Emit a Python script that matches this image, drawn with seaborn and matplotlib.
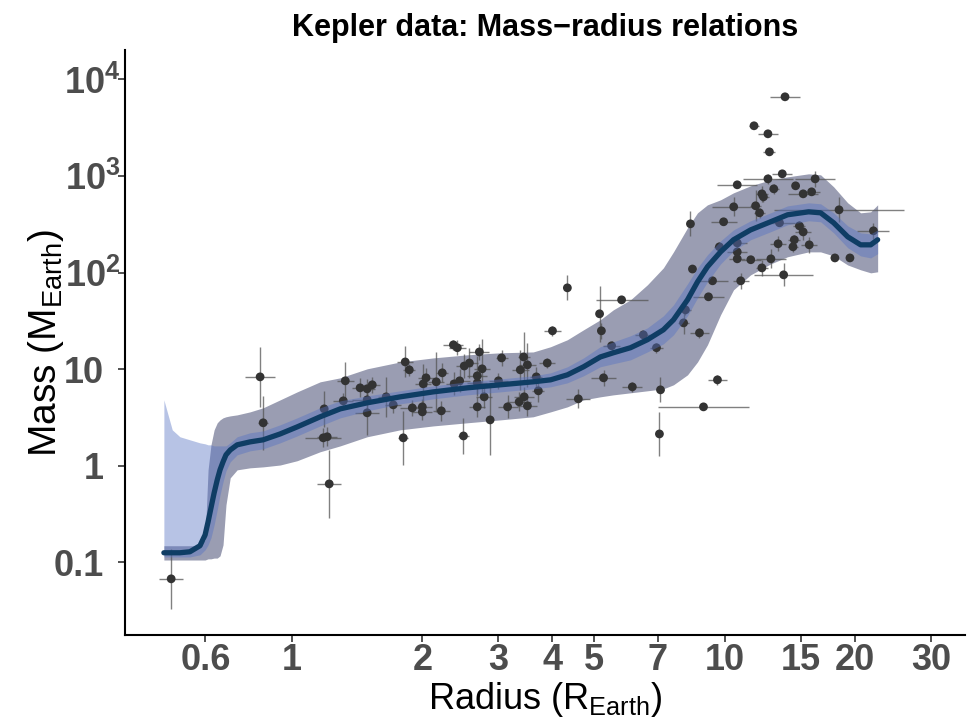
import numpy as np
import matplotlib
matplotlib.use("Agg")
import matplotlib.pyplot as plt
import seaborn as sns
from matplotlib.ticker import FixedLocator, FixedFormatter, NullLocator
from matplotlib.transforms import ScaledTranslation

# Kepler mass-radius relation: fitted mean curve, two bands and the planets

# 1. curve (radius grid, mean mass, inner and outer band)
curve_radius = [0.505, 0.528, 0.550, 0.580, 0.612, 0.629, 0.639, 0.649, 0.660, 0.671,
                0.681, 0.692, 0.703, 0.719, 0.746, 0.799, 0.857, 0.938, 1.027, 1.161,
                1.292, 1.491, 1.778, 2.12, 2.54, 3.03, 3.61, 3.96, 4.33, 4.72,
                5.16, 5.53, 6.06, 6.63, 7.22, 7.62, 8.21, 8.66, 9.13, 9.79,
                10.49, 11.49, 12.78, 13.99, 15.65, 16.68, 17.88, 19.27, 20.64, 21.78, 22.6]

mean_mass = [0.126, 0.126, 0.126, 0.129, 0.149, 0.193, 0.263, 0.367, 0.525, 0.716,
             0.909, 1.10, 1.30, 1.46, 1.65, 1.77, 1.86, 2.14, 2.53, 3.22,
             3.89, 4.49, 5.18, 5.83, 6.42, 6.90, 7.41, 7.77, 8.75, 10.6,
             13.4, 14.8, 16.7, 20.2, 25.6, 32.5, 52.3, 80.3, 115, 164,
             219, 277, 336, 397, 426, 416, 328, 235, 194, 194, 219]

outer_upper = [0.149, 0.149, 0.149, 0.149, 0.149, 0.171, 0.909, 1.65, 2.36, 2.79,
               2.99, 3.14, 3.22, 3.29, 3.37, 3.62, 3.99, 4.82, 5.83, 7.41,
               8.15, 10.1, 11.9, 13.1, 14.1, 14.8, 15.1, 17.1, 20.2, 25.6,
               32.5, 41.2, 52.3, 74.8, 112, 164, 291, 416, 503, 567,
               670, 792, 913, 981, 1054, 1029, 773, 528, 416, 426, 503]

outer_lower = [0.106, 0.106, 0.106, 0.106, 0.106, 0.106, 0.109, 0.109, 0.111, 0.111,
               0.117, 0.152, 0.395, 0.751, 0.909, 0.954, 0.976, 1.02, 1.13, 1.40,
               1.61, 2.00, 2.36, 2.59, 2.79, 2.99, 3.22, 3.62, 4.08, 4.82,
               5.18, 5.43, 5.70, 5.98, 6.27, 6.90, 8.75, 11.9, 17.9, 36.6,
               66.4, 94.9, 123, 146, 164, 164, 149, 120, 107, 99.5, 102]

inner_upper = [4.82, 2.36, 2.00, 1.86, 1.73, 1.69, 1.65, 1.65, 1.61, 1.61,
               1.61, 1.61, 1.61, 1.73, 2.00, 2.20, 2.30, 2.66, 3.14, 3.99,
               4.71, 5.30, 5.98, 6.73, 7.41, 7.95, 8.55, 9.18, 10.6, 13.1,
               17.1, 19.2, 22.2, 26.8, 35.7, 46.4, 76.6, 112, 153, 213,
               277, 344, 416, 491, 528, 516, 416, 305, 258, 252, 277]

inner_lower = [0.114, 0.114, 0.114, 0.114, 0.120, 0.135, 0.152, 0.180, 0.245, 0.351,
               0.501, 0.683, 0.888, 1.10, 1.30, 1.43, 1.50, 1.73, 2.04, 2.59,
               3.14, 3.71, 4.38, 4.94, 5.43, 5.83, 6.27, 6.57, 7.23, 8.55,
               10.6, 11.4, 12.5, 15.1, 18.3, 22.7, 35.7, 54.8, 80.3, 123,
               168, 219, 265, 313, 344, 336, 258, 181, 149, 142, 157]

# 2. planets (radius, mass and their errors in dex)
radius = [0.525, 0.843, 0.857, 1.186, 1.18, 1.205, 1.218, 1.327, 1.313, 1.436,
          1.491, 1.532, 1.491, 1.491, 1.650, 1.713, 1.826, 1.866, 1.807, 1.896,
          2.00, 2.00, 2.01, 2.04, 2.154, 2.224, 2.213, 2.36, 2.41, 2.37,
          2.44, 2.49, 2.50, 2.57, 2.71, 2.75, 2.68, 2.68, 2.78, 2.68,
          2.87, 3.00, 3.05, 3.15, 3.37, 3.43, 3.50, 3.44, 3.35, 3.50,
          3.67, 3.71, 3.89, 4.00, 4.59, 4.33, 5.14, 5.19, 5.48, 5.78,
          6.49, 6.96, 5.25, 6.12, 7.11, 7.07, 8.94, 9.63, 8.12, 8.04,
          8.75, 8.43, 8.34, 9.18, 9.38, 9.73, 9.95, 10.5, 10.7, 10.7,
          10.7, 10.7, 10.9, 11.5, 11.7, 12.6, 12.7, 13.8, 13.6, 12.6,
          16.2, 14.6, 13.0, 12.2, 12.3, 15.2, 15.9, 11.8, 12.05, 13.4,
          18.4, 22.1, 14.9, 15.2, 14.5, 13.3, 15.7, 14.4, 12.8, 12.2,
          13.7, 18.0, 19.5]

mass = [0.0677, 8.34, 2.79, 3.89, 1.95, 2.00, 0.651, 7.59, 4.71, 6.42,
        6.27, 6.90, 4.82, 3.54, 5.18, 4.28, 11.9, 9.86, 1.95, 3.98,
        4.08, 3.62, 7.06, 8.15, 7.41, 9.18, 3.71, 17.9, 16.7, 7.06,
        7.59, 2.04, 10.8, 11.6, 15.1, 10.1, 8.55, 7.23, 5.18, 4.08,
        2.99, 7.59, 13.1, 4.08, 9.86, 13.4, 11.1, 5.18, 4.60, 4.18,
        8.34, 5.98, 11.6, 25.0, 4.94, 69.6, 37.5, 25.0, 17.5, 52.3,
        22.7, 16.7, 8.15, 6.57, 6.12, 2.14, 4.08, 7.77, 41.2, 30.2,
        23.8, 109, 320, 56.2, 82.3, 185, 336, 480, 811, 203,
        164, 139, 82.3, 136, 3311, 2735, 1779, 6606, 1054, 935,
        935, 792, 737, 654, 609, 654, 686, 492, 416, 328,
        447, 271, 305, 264, 219, 199, 194, 185, 139, 112,
        94.9, 142, 142]

radius_err_dex = [0.028, 0.035, 0.012, 0.007, 0.042, 0.023, 0.028, 0.019, 0.023, 0.019,
                  0.019, 0.019, 0.035, 0.028, 0.019, 0.019, 0.019, 0.014, 0.012, 0.028,
                  0.023, 0.023, 0.019, 0.019, 0.019, 0.014, 0.019, 0.023, 0.019, 0.019,
                  0.023, 0.012, 0.019, 0.019, 0.023, 0.019, 0.023, 0.023, 0.019, 0.019,
                  0.007, 0.023, 0.014, 0.023, 0.019, 0.014, 0.019, 0.023, 0.028, 0.023,
                  0.014, 0.014, 0.019, 0.019, 0.028, 0.007, 0.007, 0.007, 0.019, 0.060,
                  0.019, 0.014, 0.028, 0.023, 0.007, 0.007, 0.106, 0.021, 0.014, 0.012,
                  0.023, 0.007, 0.007, 0.035, 0.035, 0.012, 0.030, 0.051, 0.046, 0.023,
                  0.023, 0.019, 0.019, 0.023, 0.012, 0.023, 0.014, 0.035, 0.023, 0.058,
                  0.046, 0.007, 0.012, 0.014, 0.012, 0.035, 0.019, 0.012, 0.012, 0.035,
                  0.150, 0.037, 0.014, 0.019, 0.014, 0.019, 0.019, 0.012, 0.035, 0.014,
                  0.069, 0.007, 0.007]

mass_err_dex = [0.31, 0.31, 0.28, 0.19, 0.10, 0.10, 0.35, 0.19, 0.08, 0.10,
                0.10, 0.08, 0.10, 0.23, 0.21, 0.08, 0.16, 0.06, 0.28, 0.08,
                0.08, 0.08, 0.21, 0.10, 0.31, 0.10, 0.10, 0.05, 0.08, 0.12,
                0.12, 0.19, 0.12, 0.16, 0.08, 0.31, 0.21, 0.12, 0.12, 0.10,
                0.36, 0.08, 0.08, 0.12, 0.21, 0.26, 0.23, 0.10, 0.10, 0.10,
                0.10, 0.12, 0.05, 0.05, 0.10, 0.13, 0.29, 0.08, 0.05, 0.03,
                0.05, 0.05, 0.08, 0.05, 0.13, 0.23, 0.03, 0.05, 0.05, 0.12,
                0.05, 0.03, 0.13, 0.03, 0.03, 0.05, 0.03, 0.10, 0.03, 0.05,
                0.03, 0.03, 0.08, 0.03, 0.01, 0.01, 0.01, 0.01, 0.03, 0.05,
                0.08, 0.03, 0.05, 0.08, 0.05, 0.03, 0.03, 0.16, 0.05, 0.03,
                0.13, 0.08, 0.05, 0.08, 0.05, 0.08, 0.08, 0.05, 0.10, 0.08,
                0.12, 0.03, 0.03]

xtick_pos = [0.63, 1, 2, 3, 4, 5, 7, 10, 15, 20, 30]
xtick_labels = ["0.6", "1", "2", "3", "4", "5", "7", "10", "15", "20", "30"]
ytick_pos = [0.1, 1, 10, 100, 1000, 10000]
ytick_labels = ["0.1", "1", "10", r"$\mathbf{10^2}$", r"$\mathbf{10^3}$", r"$\mathbf{10^4}$"]

# 3. style
sns.set_theme(style="white")
plt.rcParams["font.family"] = ["Liberation Sans", "DejaVu Sans"]
plt.rcParams["mathtext.fontset"] = "custom"
plt.rcParams["mathtext.rm"] = "Liberation Sans"
plt.rcParams["mathtext.it"] = "Liberation Sans:italic"
plt.rcParams["mathtext.bf"] = "Liberation Sans:bold"

fig, ax = plt.subplots(figsize=(9.67, 7.19), dpi=100)
fig.subplots_adjust(left=0.129, right=0.998, bottom=0.117, top=0.930)
ax.set_xscale("log")
ax.set_yscale("log")

# 4. bands, points, mean line
ax.fill_between(curve_radius, outer_lower, outer_upper, color="#9a9db2", lw=0, zorder=1)

r = np.array(radius)
m = np.array(mass)
rd = np.array(radius_err_dex)
md = np.array(mass_err_dex)
xerr = [r - r * 10 ** (-rd), r * 10 ** rd - r]
yerr = [m - m * 10 ** (-md), m * 10 ** md - m]
ax.errorbar(r, m, xerr=xerr, yerr=yerr, fmt="none", ecolor="#555555",
            elinewidth=1.0, alpha=0.75, zorder=2)
sns.scatterplot(x=radius, y=mass, color="#333333", s=40, edgecolor="none",
                ax=ax, zorder=3)

ax.fill_between(curve_radius, inner_lower, inner_upper, color="#5471c3",
                alpha=0.42, lw=0, zorder=4)
sns.lineplot(x=curve_radius, y=mean_mass, color="#0f3d64", lw=3.8,
             estimator=None, sort=False, ax=ax, zorder=5)

# 5. axes
ax.set_xlim(0.41, 36)
ax.set_ylim(0.0178, 20000)
ax.xaxis.set_major_locator(FixedLocator(xtick_pos))
ax.xaxis.set_major_formatter(FixedFormatter(xtick_labels))
ax.xaxis.set_minor_locator(NullLocator())
ax.yaxis.set_major_locator(FixedLocator(ytick_pos))
ax.yaxis.set_major_formatter(FixedFormatter(ytick_labels))
ax.yaxis.set_minor_locator(NullLocator())

ax.tick_params(axis="both", which="major", direction="out", length=5, width=1.2,
               color="#333333", labelsize=26, labelcolor="#4d4d4d",
               bottom=True, left=True)
ax.tick_params(axis="x", pad=1)
ax.tick_params(axis="y", pad=10)
for lab in ax.get_xticklabels() + ax.get_yticklabels():
    lab.set_fontweight("bold")

# the power-of-ten labels sit a little further right, as in the original
shift = ScaledTranslation(12 / 72, 0, fig.dpi_scale_trans)
for tick in ax.yaxis.get_major_ticks()[3:]:
    tick.label1.set_transform(tick.label1.get_transform() + shift)

sns.despine(ax=ax)
for side in ["left", "bottom"]:
    ax.spines[side].set_color("black")
    ax.spines[side].set_linewidth(1.5)

ax.set_xlabel(r"Radius (R$_{\mathrm{Earth}}$)", fontsize=26, color="black")
ax.xaxis.set_label_coords(0.5, -0.077)
ax.set_ylabel(r"Mass (M$_{\mathrm{Earth}}$)", fontsize=28, color="black")
ax.yaxis.set_label_coords(-0.07, 0.5)
ax.set_title("Kepler data: Mass\u2212radius relations", fontsize=22,
             fontweight="bold", color="black", pad=10)

plt.savefig("out.png", dpi=100)
